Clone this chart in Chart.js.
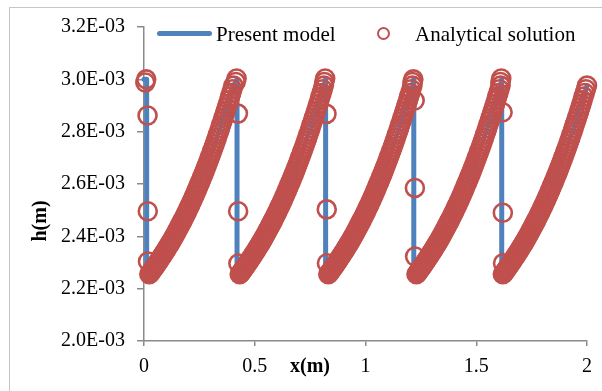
<!DOCTYPE html>
<html>
<head>
<meta charset="utf-8">
<script src="https://cdn.jsdelivr.net/npm/chart.js@4.4.1/dist/chart.umd.min.js"></script>
<style>
  html, body { margin: 0; padding: 0; background: #fff; overflow: hidden; }
  #wrap { position: relative; width: 602px; height: 391px; overflow: hidden; }
  #frame { position: absolute; left: 9px; top: 7px; width: 640px; height: 440px; border: 1px solid #c6c6c6; }
  canvas { position: absolute; left: 0; top: 0; }
  .lg { position: absolute; font-family: "Liberation Serif", serif; font-size: 21px; line-height: 21px; color: #000; white-space: nowrap; }
  .lg-line { position: absolute; height: 5px; border-radius: 3px; background: #4f81bd; }
  .lg-ring { position: absolute; box-sizing: border-box; border: 2px solid #c0504d; border-radius: 50%; }
</style>
</head>
<body>
<div id="wrap">
  <div id="frame"></div>
  <canvas id="chart" width="602" height="391"></canvas>
  <div class="lg-line" style="left:157px; top:31px; width:55px;"></div>
  <div class="lg" style="left:216px; top:24px;">Present model</div>
  <div class="lg-ring" style="left:377px; top:27px; width:13px; height:13px;"></div>
  <div class="lg" style="left:415px; top:24px;">Analytical solution</div>
</div>
<script>
// axis ticks
const xTicks = [0, 0.5, 1, 1.5, 2];
const xTickLabels = ['0', '0.5', '1', '1.5', '2'];
const yTicks = [2.0, 2.2, 2.4, 2.6, 2.8, 3.0, 3.2]; // h in 1e-3 m
const yTickLabels = ['2.0E-03', '2.2E-03', '2.4E-03', '2.6E-03', '2.8E-03', '3.0E-03', '3.2E-03'];

const blue = '#4f81bd';
const red = '#c0504d';

// x (m) where the profile drops, and where each rising branch starts
const dropX = [0.012, 0.42, 0.82, 1.218, 1.615];
const riseStart = [0.024, 0.432, 0.832, 1.23, 1.62];

// present model: top / bottom of each drop and the rising branch (h in 1e-3 m)
const modelTopH = [3.0, 3.0, 3.0, 3.0, 3.0];
const modelBottomH = [2.255, 2.255, 2.255, 2.255, 2.255];
const modelDx = [0, 0.04, 0.08, 0.12, 0.16, 0.20, 0.24, 0.28, 0.32, 0.36, 0.38];
const modelH = [2.255, 2.302, 2.354, 2.412, 2.477, 2.549, 2.629, 2.717, 2.814, 2.920, 2.976];

// analytical solution: points on one rising branch
const riseDx = [
  0, 0.005, 0.01, 0.015, 0.02, 0.025, 0.03, 0.035, 0.04, 0.045,
  0.05, 0.055, 0.06, 0.065, 0.07, 0.075, 0.08, 0.085, 0.09, 0.095,
  0.10, 0.105, 0.11, 0.115, 0.12, 0.125, 0.13, 0.135, 0.14, 0.145,
  0.15, 0.155, 0.16, 0.165, 0.17, 0.175, 0.18, 0.185, 0.19, 0.195,
  0.20, 0.205, 0.21, 0.215, 0.22, 0.225, 0.23, 0.235, 0.24, 0.245,
  0.25, 0.255, 0.26, 0.265, 0.27, 0.275, 0.28, 0.285, 0.29, 0.295,
  0.30, 0.305, 0.31, 0.315, 0.32, 0.325, 0.33, 0.335, 0.34, 0.345,
  0.35, 0.355, 0.36, 0.365, 0.37, 0.375, 0.38
];
const riseH = [
  2.255, 2.260, 2.266, 2.272, 2.278, 2.284, 2.290, 2.296, 2.302, 2.308,
  2.315, 2.321, 2.328, 2.334, 2.341, 2.347, 2.354, 2.361, 2.368, 2.375,
  2.382, 2.389, 2.397, 2.404, 2.412, 2.420, 2.428, 2.436, 2.444, 2.452,
  2.460, 2.468, 2.477, 2.485, 2.494, 2.503, 2.512, 2.521, 2.530, 2.539,
  2.549, 2.558, 2.568, 2.578, 2.588, 2.598, 2.608, 2.618, 2.629, 2.639,
  2.650, 2.661, 2.672, 2.683, 2.694, 2.705, 2.717, 2.728, 2.740, 2.752,
  2.764, 2.776, 2.789, 2.801, 2.814, 2.827, 2.840, 2.853, 2.866, 2.879,
  2.893, 2.906, 2.920, 2.934, 2.948, 2.962, 2.976
];
// analytical points around each drop
const dropDx = [-0.006, -0.002, 0.004, 0.005, 0.006];
const exactDropH = [
  [2.988, 3.000, 2.862, 2.496, 2.304],
  [2.990, 3.003, 2.869, 2.496, 2.296],
  [2.990, 3.003, 2.868, 2.503, 2.297],
  [2.990, 3.000, 2.919, 2.585, 2.323],
  [2.990, 3.003, 2.874, 2.490, 2.297]
];

const modelPts = [{ x: 0, y: 3.0 }];
const exactPts = [];
dropX.forEach((d, k) => {
  modelPts.push({ x: d, y: modelTopH[k] }, { x: d, y: modelBottomH[k] });
  modelDx.forEach((dx, i) => modelPts.push({ x: riseStart[k] + dx, y: modelH[i] }));
  dropDx.forEach((dx, i) => exactPts.push({ x: d + dx, y: exactDropH[k][i] }));
  riseDx.forEach((dx, i) => exactPts.push({ x: riseStart[k] + dx, y: riseH[i] }));
});

const axisTitles = {
  id: 'axisTitles',
  afterDraw(chart) {
    const ctx = chart.ctx;
    ctx.save();
    ctx.fillStyle = '#000';
    ctx.font = 'bold 20px "Liberation Serif"';
    ctx.textAlign = 'center';
    ctx.textBaseline = 'alphabetic';
    ctx.fillText('x(m)', 310, 371.5);
    ctx.translate(45.5, 221);
    ctx.rotate(-Math.PI / 2);
    ctx.fillText('h(m)', 0, 0);
    ctx.restore();
  }
};

const tickFont = { family: 'Liberation Serif', size: 20 };
const axisGrid = { display: true, drawOnChartArea: false, drawTicks: true, color: '#8a8a8a', lineWidth: 1.5 };
const axisBorder = { display: true, color: '#8a8a8a', width: 1.5 };

new Chart(document.getElementById('chart'), {
  type: 'scatter',
  data: {
    datasets: [
      {
        label: 'Present model',
        data: modelPts,
        showLine: true,
        borderColor: blue,
        borderWidth: 5,
        borderJoinStyle: 'round',
        borderCapStyle: 'round',
        pointRadius: 0,
        order: 1,
        clip: false
      },
      {
        label: 'Analytical solution',
        data: exactPts,
        showLine: false,
        pointStyle: 'circle',
        pointRadius: 9,
        pointBorderWidth: 2.6,
        pointBorderColor: red,
        pointBackgroundColor: 'rgba(0,0,0,0)',
        order: 0,
        clip: false
      }
    ]
  },
  options: {
    responsive: false,
    animation: false,
    layout: { padding: { left: 48, top: 27, right: 15, bottom: 0 } },
    plugins: {
      legend: { display: false },
      tooltip: { enabled: false }
    },
    scales: {
      x: {
        type: 'linear', min: 0, max: 2,
        afterBuildTicks: s => { s.ticks = xTicks.map(v => ({ value: v })); },
        afterFit: s => { s.height = 50; },
        ticks: { font: tickFont, color: '#000', padding: 9, maxRotation: 0,
                 callback: (v, i) => xTickLabels[i] },
        grid: { ...axisGrid, tickLength: 5 },
        border: axisBorder
      },
      y: {
        type: 'linear', min: 2.0, max: 3.2,
        afterBuildTicks: s => { s.ticks = yTicks.map(v => ({ value: v })); },
        afterFit: s => { s.width = 96; },
        ticks: { font: tickFont, color: '#000', padding: 12,
                 callback: (v, i) => yTickLabels[i] },
        grid: { ...axisGrid, tickLength: 7 },
        border: axisBorder
      }
    }
  },
  plugins: [axisTitles]
});
</script>
</body>
</html>
